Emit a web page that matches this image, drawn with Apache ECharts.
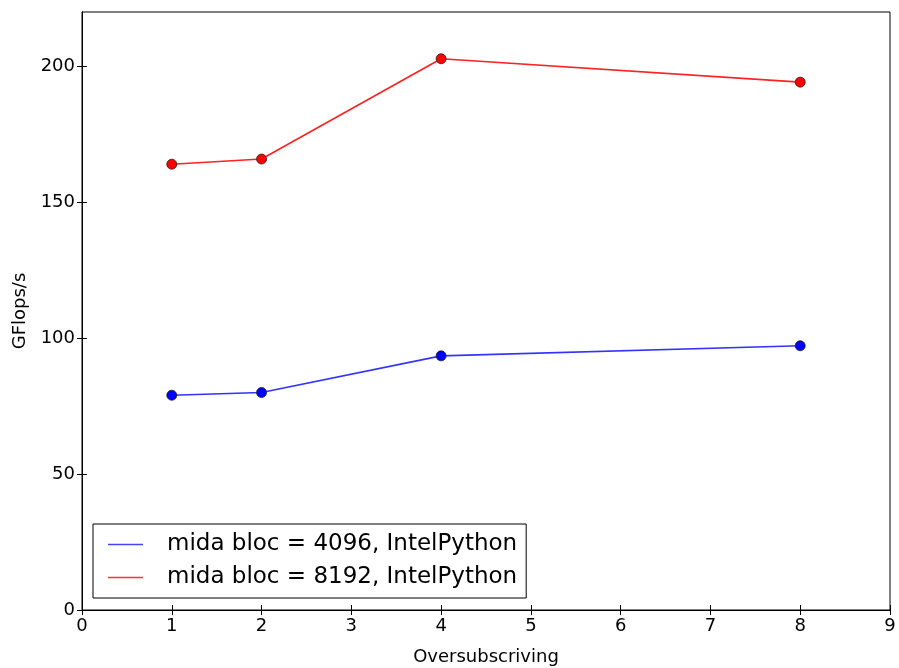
<!DOCTYPE html>
<html><head><meta charset="utf-8">
<script src="https://cdn.jsdelivr.net/npm/echarts@6/dist/echarts.min.js"></script>
<style>html,body{margin:0;padding:0;background:#fff}#c{width:899px;height:668px}</style>
</head><body><div id="c"></div>
<script>
const xValues = [1, 2, 4, 8];
const blueValues = [79.0, 80.0, 93.5, 97.2];
const redValues = [164.0, 165.9, 202.8, 194.2];
const seriesNames = ['mida bloc = 4096, IntelPython', 'mida bloc = 8192, IntelPython'];
const xTicks = [0,1,2,3,4,5,6,7,8,9];
const yTicks = [0,50,100,150,200];

const font = 'DejaVu Sans';
const chart = echarts.init(document.getElementById('c'), null, {renderer:'canvas'});
const axisLineStyle = {color:'#000', width:1};
function mk(vals){ return xValues.map((x,i)=>[x, vals[i]]); }
chart.setOption({
  animation:false,
  backgroundColor:'#fff',
  color:['#0000ff','#ff0000'],
  grid:{left:82, right:9, top:12, bottom:58, show:true, borderColor:'#000', borderWidth:1, containLabel:false, outerBoundsMode:'none'},
  textStyle:{fontFamily:font},
  legend:{
    left:93, top:524, orient:'vertical',
    borderColor:'#000', borderWidth:1, borderRadius:0,
    padding:[9,9,9,15], itemGap:10,
    itemWidth:35, itemHeight:1.5, icon:'rect',
    itemStyle:{borderWidth:0},
    textStyle:{fontFamily:font, fontSize:23, color:'#000', padding:[0,0,0,19]},
    data:[{name:seriesNames[0], itemStyle:{color:'#4444ff'}}, {name:seriesNames[1], itemStyle:{color:'#ff3333'}}]
  },
  xAxis:[{
    type:'value', min:0, max:9, interval:1,
    name:'Oversubscriving', nameLocation:'middle', nameGap:38,
    nameTextStyle:{fontFamily:font, fontSize:18, color:'#000'},
    axisLine:{show:true, lineStyle:axisLineStyle},
    axisTick:{show:true, inside:true, length:5, lineStyle:axisLineStyle, customValues:xTicks},
    axisLabel:{fontFamily:font, fontSize:18, color:'#000', margin:7, customValues:xTicks},
    splitLine:{show:false}
  },{
    type:'value', min:0, max:9, interval:1, position:'top',
    axisLine:{show:true, lineStyle:axisLineStyle},
    axisTick:{show:true, inside:true, length:5, lineStyle:axisLineStyle, customValues:xTicks},
    axisLabel:{show:false}, splitLine:{show:false}
  }],
  yAxis:[{
    type:'value', min:0, max:220, interval:50,
    name:'GFlops/s', nameLocation:'middle', nameGap:53,
    nameTextStyle:{fontFamily:font, fontSize:18, color:'#000'},
    axisLine:{show:true, lineStyle:axisLineStyle},
    axisTick:{show:true, inside:true, length:5, lineStyle:axisLineStyle, customValues:yTicks},
    axisLabel:{fontFamily:font, fontSize:18, color:'#000', margin:7, customValues:yTicks},
    splitLine:{show:false}
  },{
    type:'value', min:0, max:220, interval:50, position:'right',
    axisLine:{show:true, lineStyle:axisLineStyle},
    axisTick:{show:true, inside:true, length:5, lineStyle:axisLineStyle, customValues:yTicks},
    axisLabel:{show:false}, splitLine:{show:false}
  }],
  series:[
    {name:seriesNames[0], type:'line', data:mk(blueValues), symbol:'circle', symbolSize:10,
     lineStyle:{color:'#3333ff', width:1.6}, itemStyle:{color:'#0000ff', borderColor:'#222', borderWidth:0.8}},
    {name:seriesNames[1], type:'line', data:mk(redValues), symbol:'circle', symbolSize:10,
     lineStyle:{color:'#ff2222', width:1.6}, itemStyle:{color:'#ff0000', borderColor:'#222', borderWidth:0.8}}
  ]
});
</script></body></html>
